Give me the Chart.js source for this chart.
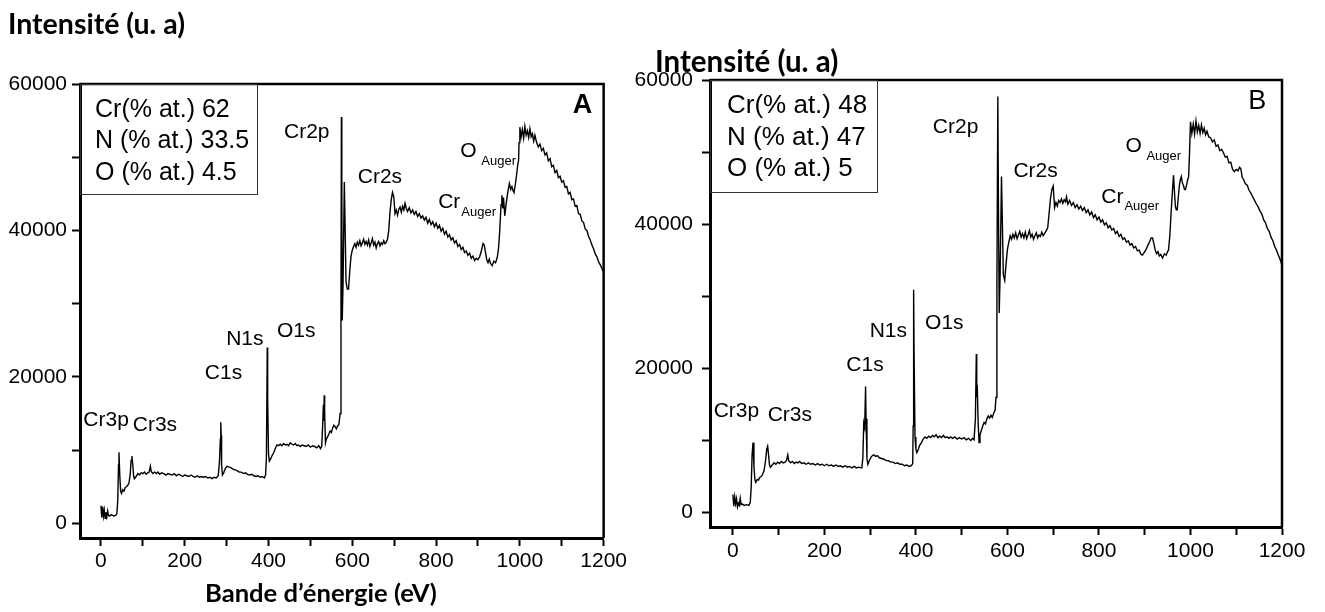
<!DOCTYPE html>
<html>
<head>
<meta charset="utf-8">
<script src="https://cdn.jsdelivr.net/npm/chart.js@4.4.0/dist/chart.umd.min.js"></script>
<style>
  html, body { margin: 0; padding: 0; background: #fff; }
  body { width: 1325px; height: 612px; position: relative; overflow: hidden; }
  .box { position: absolute; top: 0; height: 612px; }
  #boxA { left: 0; width: 630px; }
  #boxB { left: 630px; width: 695px; }
</style>
</head>
<body>
<div class="box" id="boxA"><canvas id="chartA"></canvas></div>
<div class="box" id="boxB"><canvas id="chartB"></canvas></div>
<script>
// binding energy (eV) and intensity (a.u.)
const energyA = [0,2,4,6,8,10,12,14,16,18,20,25,30,35,38,40,42,43,45,47,49,52,55,58,61,64,67,70,72,74,76,78,80,84,88,92,96,100,104,108,112,115,118,120,124,128,132,136,140,145,150,155,160,165,170,175,180,185,190,195,200,205,210,215,220,225,230,235,240,245,250,255,260,265,270,275,280,283,285,286,287,288,290,293,297,301,305,310,315,320,325,330,335,340,345,350,355,360,365,370,375,380,385,390,393,395,397,398,400,402,405,408,412,416,420,424,428,432,436,440,444,448,452,456,460,464,468,472,476,480,485,490,495,500,505,510,515,520,524,527,529,531,532,533,534,536,538,541,544,547,550,553,556,559,562,565,568,571,573,574,575,576,578,581,583,585,588,591,594,597,600,603,606,609,612,615,618,621,624,627,630,633,636,639,642,645,648,651,654,657,660,663,666,669,672,675,678,681,684,687,690,693,696,699,702,705,708,711,714,717,720,723,726,729,732,736,740,744,748,752,756,760,764,768,772,776,780,784,788,792,796,800,804,808,812,816,820,824,828,832,836,840,844,848,852,856,860,864,868,872,876,880,884,888,892,896,900,904,908,912,915,918,921,924,927,930,934,938,942,946,949,952,955,957,959,961,964,967,970,973,975,978,981,984,986,989,992,995,997,998,1000,1003,1006,1009,1012,1015,1018,1021,1024,1027,1030,1033,1036,1040,1044,1048,1052,1056,1060,1064,1068,1072,1076,1080,1084,1088,1092,1096,1100,1104,1108,1112,1116,1120,1124,1128,1132,1136,1140,1144,1148,1152,1156,1160,1164,1168,1172,1176,1180,1184,1188,1192,1196,1200];
const countsA = [2400,800,2300,1000,1800,700,1500,900,1700,1100,1000,1200,1000,1100,1300,3000,8000,9700,6500,4400,4100,4600,4400,4900,5000,5200,5500,6800,8600,9200,8000,6500,6100,6400,6800,6600,6900,6800,7000,6700,6900,7000,7800,7100,6800,7000,6800,7000,6700,6900,6800,6600,6800,6700,6600,6800,6500,6700,6600,6400,6600,6500,6400,6600,6400,6300,6500,6300,6400,6300,6400,6200,6300,6100,6300,6200,6500,8500,11500,13800,12000,8000,6600,6900,7500,7800,7700,7600,7400,7300,7200,7000,7000,6800,6900,6700,6600,6700,6500,6400,6500,6300,6400,6200,6600,9000,24000,17000,9500,8500,8800,9200,9600,10200,10700,10600,10800,10600,10900,10700,10800,10600,11000,10800,10700,10900,10600,10700,10500,10700,10600,10500,10700,10400,10600,10500,10300,10600,10200,10500,13000,16200,14000,17500,15000,11000,11500,11800,12200,12600,12400,13000,13400,13200,12900,13300,13500,15000,30000,55500,45000,27700,33000,46600,40000,33000,32000,32000,34500,36500,37300,37800,38200,37700,38400,38000,38600,37900,38300,38800,38100,38500,38000,38700,37800,38300,38900,38000,38400,37600,38200,38500,37900,38300,38100,38600,38200,38400,38800,40000,42500,44200,45200,44600,42300,42800,42100,42900,43200,42500,43300,42800,43700,43000,42600,43100,42400,42800,42200,42600,41900,42300,41700,42000,41400,41800,41000,41500,40800,41200,40500,41000,40300,40700,39900,40300,39500,39900,39100,39400,38700,39000,38300,38600,37800,38100,37400,37700,37000,37200,36600,36900,36200,36500,35900,36200,36000,36400,37200,38200,38000,37000,36000,35600,36100,35500,35200,35800,35600,36300,37500,40000,43500,44800,43000,44500,42000,43500,44800,45800,46400,45600,46000,45400,45200,46200,47500,49000,49600,52000,54100,52800,53800,52600,54200,53000,53600,52700,53900,52800,53200,52200,53000,52000,51400,51800,50900,51200,50300,50600,49500,49800,48700,48900,47900,48200,47200,47400,46600,46800,45900,46000,45000,45200,44200,44300,43300,43400,42300,42200,41300,41100,40200,40000,39200,38700,38000,37500,36800,36400,35700,35300,34800,34300];

const energyB = [0,2,4,6,8,10,12,14,16,18,20,25,30,35,38,40,42,44,46,48,50,53,56,59,62,65,68,71,74,76,78,80,82,86,90,94,98,102,106,110,114,117,120,122,126,130,134,138,142,146,150,155,160,165,170,175,180,185,190,195,200,205,210,215,220,225,230,235,240,245,250,255,260,265,270,275,280,282,284,286,288,290,291,293,295,298,302,305,308,312,316,320,325,330,335,340,345,350,355,360,365,370,375,380,385,390,393,394,395,396,398,400,402,405,408,412,416,420,424,428,432,436,440,444,448,452,456,460,464,468,472,476,480,485,490,495,500,505,510,515,520,524,527,530,532,533,534,536,538,540,543,546,549,552,555,558,561,564,567,570,573,575,577,579,580,582,584,587,589,591,594,597,600,603,606,609,612,615,618,621,624,627,630,633,636,639,642,645,648,651,654,657,660,663,666,669,672,675,678,681,684,688,691,694,697,700,703,706,709,712,715,718,721,724,727,729,732,736,740,744,748,752,756,760,764,768,772,776,780,784,788,792,796,800,804,808,812,816,820,824,828,832,836,840,844,848,852,856,860,864,868,872,876,880,884,888,892,895,899,903,907,911,914,917,920,923,926,929,932,935,939,943,947,950,952,955,958,961,963,965,967,969,971,973,976,978,980,982,985,987,989,992,994,996,998,1000,1003,1006,1009,1012,1015,1018,1021,1024,1027,1030,1033,1036,1040,1044,1048,1052,1056,1060,1064,1068,1072,1076,1080,1084,1088,1092,1096,1100,1104,1107,1110,1113,1116,1120,1124,1128,1132,1136,1140,1144,1148,1152,1156,1160,1164,1168,1172,1176,1180,1184,1188,1192,1196,1200];
const countsB = [2500,900,2200,1200,1900,800,1300,1000,2000,1100,1200,1000,1100,1000,1400,3500,8000,9700,6500,4600,4200,4600,4500,4900,5000,5300,5800,7000,8800,9200,8000,6600,6300,6600,6900,6700,7000,6800,7100,6900,7000,7200,8000,7200,6900,7100,6800,7000,6900,7100,6800,6900,6700,6900,6700,6800,6600,6800,6600,6700,6500,6700,6500,6600,6400,6600,6400,6500,6300,6500,6300,6400,6200,6400,6200,6300,6200,6400,7500,12400,11800,17500,13000,7500,6700,7200,7700,7900,8000,7800,7900,7600,7500,7400,7200,7200,7000,7000,6800,6900,6700,6700,6500,6600,6400,6500,6800,12000,30900,22000,10500,8800,8300,8700,9300,9700,10200,10500,10300,10600,10400,10700,10500,10800,10400,10600,10400,10700,10400,10500,10300,10500,10300,10500,10200,10400,10200,10400,10100,10300,10000,10300,10100,13000,22000,16000,17700,12500,9700,10800,11400,12000,12500,12300,13000,13400,13100,13500,13200,13800,14200,16000,32000,57700,46000,27700,33000,46600,40000,33000,32200,34500,36500,37500,38400,37900,38600,38100,38800,38000,38500,39000,38200,38700,38100,38900,38000,38500,39100,38200,38600,37900,38400,38800,38100,38500,38300,38900,38400,38700,39000,39500,41500,43500,44800,45300,42300,43000,42500,43300,43000,43500,42900,43400,43100,43800,42800,43300,42600,43000,42300,42700,42100,42500,41900,42300,41600,42000,41300,41700,40900,41300,40600,41000,40300,40600,39900,40200,39500,39800,39200,39400,38700,39000,38300,38600,37900,38100,37500,37700,37100,37300,36700,36900,36300,36400,35800,35700,36100,36500,37100,37600,38100,38100,37300,36400,35900,36200,35600,35800,35300,35900,35700,36200,36400,38500,42000,45000,46800,44500,42500,42000,42000,43500,45500,46200,46600,45800,45300,44800,44800,45600,46200,46600,50000,54200,52600,53900,52500,54300,52800,53700,52600,53800,52700,53300,52400,52900,52100,52000,51400,51700,50800,51000,50200,50400,49900,49300,49400,48500,48600,47600,47300,47600,47400,47900,47700,46500,46200,45600,45400,44700,44300,43800,43300,42800,42400,41800,41400,40600,40200,39400,39000,38200,37700,36900,36400,35700,35100,34300];

// tick positions (labels only on every second one)
const xTickValues = [0,100,200,300,400,500,600,700,800,900,1000,1100,1200];
const yTickValues = [0,10000,20000,30000,40000,50000,60000];

// peak assignments: text, optional subscript, anchor (eV, intensity) of the text's left edge
const peakLabels = [
  { text: 'Cr3p', x: -42, y: 14100 },
  { text: 'Cr3s', x: 76, y: 13450 },
  { text: 'C1s', x: 248, y: 20450 },
  { text: 'N1s', x: 299, y: 25150 },
  { text: 'O1s', x: 420, y: 26300 },
  { text: 'Cr2p', x: 437, y: 53400 },
  { text: 'Cr2s', x: 613, y: 47300 },
  { text: 'Cr', sub: 'Auger', x: 805, y: 43800 },
  { text: 'O', sub: ' Auger', x: 858, y: 50850 }
];

const elements = ['Cr(% at.)', 'N (% at.)', 'O (% at.)'];
const compA = [62, 33.5, 4.5];
const compB = [48, 47, 5];

const yTitle = 'Intensité (u. a)';
const xTitle = 'Bande d’énergie (eV)';

const tickFont = { family: '"Liberation Sans", Arial, sans-serif', size: 21 };

// draw bold title so that it spans a given width
function fitText(ctx, text, x, y, width) {
  ctx.font = 'bold 20px Lato, "Open Sans", sans-serif';
  const size = 20 * width / ctx.measureText(text).width;
  ctx.font = 'bold ' + size.toFixed(1) + 'px Lato, "Open Sans", sans-serif';
  ctx.fillText(text, x, y);
}

function decor(cfg) {
  return {
    id: 'decor' + cfg.letter,
    afterDraw(chart) {
      const ctx = chart.ctx;
      const a = chart.chartArea;
      const xs = chart.scales.x, ys = chart.scales.y;
      ctx.save();
      // frame top + right
      ctx.strokeStyle = '#000';
      ctx.lineWidth = 2.5;
      ctx.beginPath();
      ctx.moveTo(a.left, a.top);
      ctx.lineTo(a.right, a.top);
      ctx.lineTo(a.right, a.bottom);
      ctx.stroke();

      // peak labels
      ctx.fillStyle = '#000';
      ctx.textBaseline = 'middle';
      ctx.textAlign = 'left';
      peakLabels.forEach(l => {
        const px = xs.getPixelForValue(l.x);
        const py = ys.getPixelForValue(l.y);
        ctx.font = '21px "Liberation Sans", Arial, sans-serif';
        ctx.fillText(l.text, px, py);
        if (l.sub) {
          const w = ctx.measureText(l.text).width;
          ctx.font = '13px "Liberation Sans", Arial, sans-serif';
          ctx.fillText(l.sub, px + w + 1, py + 10);
        }
      });

      // panel letter
      ctx.font = (cfg.letterBold ? 'bold ' : '') + '27px "Liberation Sans", Arial, sans-serif';
      ctx.fillText(cfg.letter, xs.getPixelForValue(1126), ys.getPixelForValue(57000));

      // composition box
      ctx.lineWidth = 1;
      ctx.strokeStyle = '#333';
      ctx.strokeRect(a.left + 0.5, a.top + 0.5, cfg.boxW, cfg.boxH);
      ctx.font = cfg.boxFont + 'px "Liberation Sans", Arial, sans-serif';
      elements.forEach((e, i) => {
        ctx.fillText(e + ' ' + cfg.comp[i], a.left + cfg.boxPad, a.top + 26 + i * 31.5);
      });

      // axis titles
      fitText(ctx, yTitle, cfg.yTitleX, cfg.yTitleY, cfg.yTitleW);
      if (cfg.showX) {
        fitText(ctx, xTitle, 205, 594, 232);
      }
      ctx.restore();
    }
  };
}

function makeChart(id, energy, counts, cfg) {
  const ctx = document.getElementById(id).getContext('2d');
  return new Chart(ctx, {
    type: 'line',
    data: {
      datasets: [{
        data: energy.map((e, i) => ({ x: e, y: counts[i] })),
        borderColor: '#000',
        borderWidth: 1.4,
        pointRadius: 0,
        fill: false,
        tension: 0
      }]
    },
    options: {
      responsive: true,
      maintainAspectRatio: false,
      animation: false,
      layout: { padding: { top: cfg.top, left: 0, right: cfg.right, bottom: 0 } },
      plugins: { legend: { display: false }, tooltip: { enabled: false } },
      scales: {
        x: {
          type: 'linear',
          min: -50,
          max: 1200,
          afterFit: s => { s.height = cfg.xHeight; },
          afterBuildTicks: s => { s.ticks = xTickValues.map(v => ({ value: v })); },
          border: { display: true, color: '#000', width: 3 },
          grid: { drawOnChartArea: false, drawTicks: true, tickLength: 8, tickColor: '#000', tickWidth: 2 },
          ticks: {
            autoSkip: false,
            maxRotation: 0,
            padding: cfg.xPad,
            color: '#000',
            font: tickFont,
            callback: v => (v % 200 === 0 ? String(v) : '')
          }
        },
        y: {
          min: -2000,
          max: 60000,
          afterFit: s => { s.width = 80; },
          afterBuildTicks: s => { s.ticks = yTickValues.map(v => ({ value: v })); },
          border: { display: true, color: '#000', width: 3 },
          grid: { drawOnChartArea: false, drawTicks: true, tickLength: 8, tickColor: '#000', tickWidth: 2 },
          ticks: {
            autoSkip: false,
            padding: cfg.yPad,
            color: '#000',
            font: tickFont,
            callback: v => (v % 20000 === 0 ? String(v) : '')
          }
        }
      }
    },
    plugins: [decor(cfg)]
  });
}

makeChart('chartA', energyA, countsA, {
  top: 84, right: 25, xHeight: 74, xPad: 3, yPad: 5,
  letter: 'A', letterBold: true,
  comp: compA, boxW: 177, boxH: 110, boxPad: 15, boxFont: 25,
  yTitleX: 8, yTitleY: 25, yTitleW: 177, showX: true
});

makeChart('chartB', energyB, countsB, {
  top: 80, right: 43, xHeight: 85, xPad: 4, yPad: 9,
  letter: 'B', letterBold: false,
  comp: compB, boxW: 167, boxH: 112, boxPad: 17, boxFont: 26,
  yTitleX: 25, yTitleY: 62, yTitleW: 183, showX: false
});
</script>
</body>
</html>
